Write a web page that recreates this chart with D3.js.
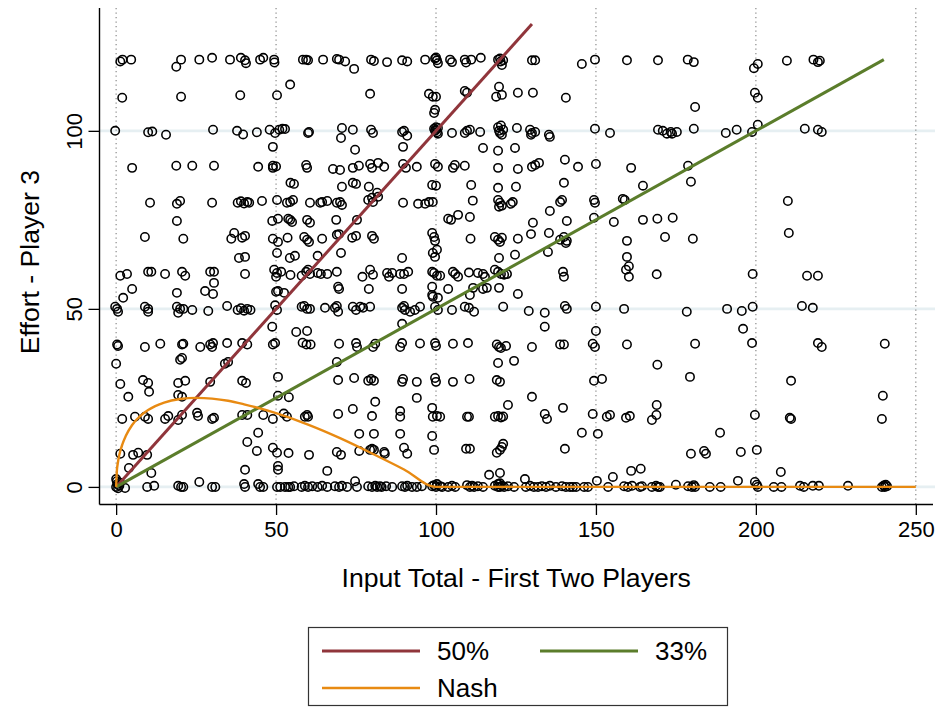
<!DOCTYPE html>
<html><head><meta charset="utf-8">
<script src="https://cdn.jsdelivr.net/npm/d3@7"></script>
<style>body{margin:0;background:#fff}svg{display:block}text{font-family:"Liberation Sans",Arial,sans-serif;fill:#000}</style>
</head><body><svg id="c" width="939" height="712"></svg>
<script>
// ---- data ----
const xTicks = [0, 50, 100, 150, 200, 250];
const yTicks = [0, 50, 100];
const xTitle = "Input Total - First Two Players";
const yTitle = "Effort - Player 3";
const seriesNames = ["50%", "33%", "Nash"];
const line50 = [[0, 0], [130, 130]];
const line33 = [[0, 0], [240, 120]];
const nashX = [0, 0.25, 0.5, 1, 2, 3, 5, 7.5, 10, 15, 20, 25, 30, 35, 40, 50, 60, 70, 80, 90, 100, 250];
const nashY = [0, 4.75, 6.57, 9, 12.1, 14.3, 17.4, 19.9, 21.6, 23.7, 24.7, 25, 24.8, 24.2, 23.2, 20.7, 17.5, 13.7, 9.4, 4.9, 0, 0];
const obs = [
[1.3,119.5],[2,120],[4.7,120],[20.3,120],[18.8,118],[26,120],[30,120.5],[35.6,120],[39,120.5],[40.3,119.8],[40.6,119],[45,120],[46,120.5],[49.4,120],[49.5,119.2],
[58.4,120],[59.4,120],[60,119.8],[64.7,120],[69,120.2],[69.7,120],[71.6,119.5],[74.4,117.4],[79.7,120],[80.6,119.6],[84.7,119.3],[89.4,119.8],[91,119.5],[96.6,120],[99.7,120.3],[100.3,119.8],[100.6,119],[100,120.6],[104.4,120],[105,119.3],[109,120],[109.4,119.2],
[111,120],[114,120.5],[119.4,120],[120,120.3],[121,119.8],[120.6,118.5],[120.2,119.5],[130,119.8],[131,119.8],[145.6,118.8],[149.7,120],[159.7,119.8],[169.4,119.8],
[178.7,120],[180.6,119.3],[199.4,117.6],[200.6,118.8],[209.7,119.7],[218,120],[219.4,119.3],[220,119.7],
[1.9,109.3],[20.3,109.6],[38.8,110],[50.3,110],[54.4,113],[79.4,110.4],[97.8,110.4],[99,109.6],[100,109.6],[109,111.2],[109.7,110.7],[99.7,105.9],[99.4,105],
[119.7,112.4],[118.8,109.6],[120.6,110.1],[125.6,110.7],[130.3,110.7],[140.6,109.3],[181,106.7],[199.7,110.7],[200.6,109.3],
[-0.3,100],[10,99.6],[11.3,99.8],[15.6,98.9],[30.3,100.3],[37.8,100],[39.7,99],[44,99.6],[48,100.3],[49.7,99.4],[51,100.3],[52,100.6],[52.8,100.5],[49,95.5],
[60,99.4],[60.3,99.7],[70.6,100.8],[70.3,98],[74,100.3],[79.7,100.3],[80.3,99.4],[89.4,99.7],[90,100],[91,98.6],[89.7,95.5],[74.7,94.7],
[99.7,100],[100,100.3],[100.3,99.6],[99.4,100.6],[100.6,99.2],[100,101],[100.6,100.8],[105,99.4],[109,99.4],[109.7,100],
[110.6,100.3],[113.8,99.7],[119.4,101],[119.7,100],[120,99.4],[120.6,98.9],[121,100.3],[120.3,101.5],[125.3,100.8],[129.4,100.3],[130,99.4],[131,99.7],[129.7,98.9],[135.3,98.9],[135.6,98.3],[149.7,100.6],[154.4,99.4],
[114.7,95.2],[119.4,94.4],[124.7,95.2],
[169.4,100.3],[170.9,100],[172.2,99.2],[173.4,99.7],[173.8,99.2],[175.3,99.7],[180.6,100.6],[190.6,99.4],[194,100.3],[198.8,99.7],[200.6,101.7],[215.3,100.6],[219.4,100.3],[220.6,99.7],
[5,89.6],[18.8,90.2],[23.8,90.2],[30.6,90.2],[44.4,89.9],[49,90.2],[49,89.6],[50,90],
[59.4,90.4],[59.7,89.6],[67.8,89.3],[70,89],[74,89.6],[75.9,90.2],[79.4,90.7],[80,89.6],[81.9,91],[83.8,89.9],[89.7,90.7],[90.6,89.6],[94,89.9],[99.7,90.7],[100.6,89.9],[105.9,90.4],[105.3,89.6],[109,90.2],
[119.4,89.6],[125.6,89.3],[130,89.9],[131,90.4],[132.2,91],[140.3,91.9],[144.4,89.9],[150,90.7],[161,89.6],[178.8,90.2],
[54.5,85.4],[55.6,85.1],[70.6,84.3],[74,85.4],[75,85.1],[79,84.3],[98.8,84.8],[100,84.6],[111,84.8],[119.4,84],[125,84.3],[140,85.4],[164.7,84.6],[179.7,85.7],
[10.6,79.8],[19,79.5],[20,80.3],[30,79.8],[38,79.8],[39,80.2],[40,79.6],[41,80],[41.6,79.8],[45.6,80.3],[50.3,80.6],[53.4,79.8],
[54.4,80],[55.3,80.6],[60.6,79.8],[63.8,79.8],[64.4,80],[66,80.3],[69,79.8],[70,80],[70.6,79.2],[78.8,80.6],[80,81.2],[80.3,80],[81.6,82.6],[81.9,81.5],[89.7,79.8],[94.4,79.5],[96.6,79.5],[97.8,80],[99,80],[111.5,80.4],
[119.4,80.6],[120,79.8],[120.6,79],[119.7,78.7],[124,80],[123.4,79.5],[138.8,80],[139.4,80.6],[149.4,80.6],[149.7,79.8],[158.4,80.9],[159,80.6],[210,80.3],
[19,74.7],[48.8,74.7],[50.6,75.3],[53.8,75.3],[54.4,75],[55,74.4],[59.7,75],[60.6,74.2],[68.8,75],[75.3,75],[103.8,75.3],[104.7,75],[106.9,76.4],[110.6,75.8],[135.6,77.5],[140.9,74.7],[130.3,74.2],[149.4,75.6],[155.6,74.4],[164.7,75],[169.2,75.3],[174,75.6],
[9,70.2],[21,69.7],[36,69.7],[36.9,71.3],[39.4,70],[40.3,70.5],[49,69.7],[50.6,68.8],[53.6,70],[58.8,70.2],[59.7,69.4],[60.3,68.8],[64.4,69.7],[69,70.8],[69.7,71],[73.8,70],[75,70.5],[80,70.5],[80.6,69.7],[98.8,71.3],[99.4,70.2],[99.7,69.1],[100.3,66.6],[99,65.7],[99.7,64.6],[110.8,69.7],[118.4,70.2],[119.4,69.4],[120,68.8],[120.6,70],[125.6,69.7],[129.7,71],[135.3,71.3],[138.8,69.4],[140,70.2],[140.9,69.1],[140.6,68.5],[159.7,69.1],[171.6,70.2],[180.3,69.7],[210.3,71.3],
[50.3,65.7],[38.4,64.3],[40.3,64.6],[54.3,64.3],[55.9,64.9],[63,64.9],[70.3,65.7],[89.4,64.3],[135,66],[119.7,64.3],[124.7,65.2],[159.7,64.6],[160.3,62],[159.4,61],[160.3,59],
[1.3,59.3],[3.4,59.8],[10,60.4],[11,60.4],[15.3,59.8],[20.6,60.4],[21.6,59.3],[29.4,60.4],[30.6,60.4],[40.3,59.8],[49.4,61],[50.3,60.1],[50,59],[51.6,60.4],[54.5,59.5],[58,59.3],[59.4,60.4],[60,61],[60.6,59.8],[63,60.1],[64,59.8],[66,59.8],[69,60.4],[77,59],[79.4,61],[80.3,59.6],[84.7,60.1],[85.3,59],[86.3,60.1],[88.8,59.8],[90,59.8],[91.3,60.4],[98.8,60.4],[99.4,60.1],[100.3,59.3],[101.3,59.3],[105.3,60.4],[106,59.8],[106.9,59],[110.3,60.2],[113.1,60.1],[114.7,59.8],[115.3,59],[118.4,61],[119.4,60.4],[120.3,59.8],[121.3,59.6],[122.2,59.8],[139.7,60.4],[140,59],[169,59.7],[199,59.8],[216,59.3],[219.4,59.3],
[5,55.6],[2.2,53.1],[19,54.5],[27.8,55],[30.3,54.2],[30.6,57.3],[50,54.8],[50.6,55],[52.5,54.5],[69.4,56.2],[69.7,55.6],[79,55.6],[89.4,55.6],[98.8,56.2],[98.8,53.9],[99,53.4],[100.6,53.1],[103.8,55.6],[111.6,55.9],[110.6,53.9],[114.7,55.6],[115.9,55.9],[119.7,55.9],[125.6,54.2],
[-0.3,50.6],[0.3,50],[0.6,49.2],[9,50.6],[10,50],[10,49.2],[19,50.6],[20,50],[19.4,48.9],[21,50],[23.8,49.7],[28.8,49.4],[34.7,50.8],[38,49.7],[39,50.2],[40,49.5],[41,50],[42,49.7],[49.7,51],[50.3,49.7],[58,50.6],[58.8,50.8],[59.7,50],[60.6,50],[65.3,50.3],[68.4,50.3],[69,50.8],[69.4,49.2],[74,50.6],[75,49.7],[76.3,50.6],[77.2,50.3],[79.4,50.6],[89.4,50.3],[90.3,49.7],[90,50.8],[91.9,49.2],[93.4,49.7],[95,50.6],[99.7,50.6],[100.6,49.7],[105,49.7],[109,50.6],[110.3,50.3],[111.9,49.2],[121,50.6],[129,49.4],[134,48.9],[140.3,50.8],[140.9,50],[150,50.6],[158.8,50],[178.4,49.2],[191,50],[195.6,49.4],[199,50.6],[214.4,50.8],[217.8,50.3],
[48.8,45],[89.4,45.8],[56.3,43.5],[59.7,43.8],[134,45],[150,43.8],[196,44.4],
[0.3,40],[0.6,39.6],[9,39.3],[13.8,40.2],[20.6,40],[21,40.2],[26.3,39.3],[29.4,40],[30.3,40.4],[30,39.3],[34.7,40.4],[39.4,40.4],[41,40],[49,40],[49.7,40.4],
[58.3,40.5],[59.5,40],[60.8,40],[69.7,40.2],[75,40.4],[75.3,39.3],[80.3,39.3],[81,40.2],[88.8,39.3],[89.4,40.4],[95,40.3],[99.7,40.4],[100,39.6],[105.3,40.2],[110,40.4],
[119,40],[119.7,39.3],[120.3,39],[121.9,39.6],[130,39.3],[138.8,40],[140,40],[149,40.2],[149.7,39.3],[159.7,40],[181,40.2],[198.8,40.4],[219.4,40.4],[220.6,39.3],[240.3,40.2],
[0,34.6],[20,35.7],[20.6,36.2],[34,34.6],[35,35.1],[69,35.1],[119.4,34.8],[124.4,35.4],[169.2,34.3],
[1.3,28.9],[8.4,30],[10,29.2],[19.4,29.2],[21.6,29.8],[29.4,29.5],[39.4,29.8],[40.6,29.2],[50.6,30.9],[69.4,30],[74.4,30.6],[78.8,29.8],[79.7,30.3],[80.6,29.8],[89.4,29.5],[89.7,30.3],[94,29.5],[99.7,30.6],[100,29.5],[105.3,29.5],[110.5,30.3],[119,30],[120,29.5],[149.4,29.8],[151.9,30.3],[179.4,30.9],[211,29.8],
[10.3,26.7],[3.8,25.3],[19.4,25.8],[20.6,25.3],[50.6,25.6],[54,25.2],[81,23.9],[94,25],[130,25.3],[122.5,23],[139.7,22.2],[169,23],[239.7,25.6],
[1.9,19.1],[5.9,19.7],[9,19.7],[10,19.1],[15.3,19.1],[16.3,19.9],[19.4,18.8],[20.6,20.2],[25.3,20.8],[25.6,19.9],[30,19.1],[30.6,19.4],[39.4,20.2],[41,20.2],[46,20.2],[49,19.1],[52.4,20.6],[53.4,19.7],[59.7,20.2],[59,19.7],[60,19.7],[69.4,20.5],[74,21.9],[80,19.9],[88.8,21.3],[88.8,19.7],[98.8,22.2],[99,19.7],[100.3,19.9],[101.3,19.7],[109.7,19.7],[110.3,19.7],[118.4,19.7],[119.4,19.9],[120.3,19.5],[121,19.8],[134,20.5],[134.7,19.1],[149,20.5],[153.4,19.7],[154.4,20.2],[159.4,19.4],[160.6,19.9],[167.5,18.8],[168.9,20.2],[199.7,20.2],[210.6,19.4],[211,19.1],[239.4,19.1],
[44.4,15.2],[41,12.6],[76,14.9],[80.6,14.9],[88.8,14.9],[98.8,14.3],[145.6,15.2],[150.6,14.9],[188.8,15.2],
[1.3,9.3],[5.3,9],[6.9,9.6],[9.7,9],[44,10.1],[49,11],[50.3,9.6],[53.9,9.5],[60.3,9],[69,9.8],[70.3,9],[76,10.1],[79.4,10.4],[80,10.7],[80.6,10.4],[83.8,9.8],[84,9.3],[90,11],[91,9.3],[99.4,10.4],[109.4,10.7],[110.6,10.7],[119,9.6],[120,10.4],[120.6,11.2],[121,12.1],[140.3,10.7],[179.7,9.3],[183.8,10.1],[184.4,9.3],[195.3,9.8],[200.3,10.4],
[4,5.3],[11,3.9],[40.3,4.8],[50.6,5.9],[50.6,4.8],[66,4.5],[116.6,3.4],[120,3.9],[127.8,2.2],[155.3,2.8],[161,4.5],[164,5.1],[207.8,4.2],[194.4,1.7],[199.7,1.4],[26,1.4],[74.7,1.6],[150.3,1.7],
[0,0],[0.4,0.8],[1,0.3],[0.2,1.6],[1.2,1.2],[0.6,-0.4],[0,2.2],
[2.8,-0.3],[9.7,0],[11.9,0.3],[19.4,0.3],[20.3,0],[21,0],[30,0],[31,0],[40,0.8],[40.3,0],[44.4,0.8],[45,0],[46,0],[50.3,0],[51.3,0],[52.8,0],[53.8,0],
[54.4,0],[55.6,0.2],[58,0],[59,0.3],[60,0],[61.3,0.2],[63,0],[64.4,0.3],[66,0],[68.4,0.2],[69.7,0],[70.6,0.3],[72.2,0],[75.3,0],[78.8,0.2],[80,0],[81,0.3],[81.6,0],[82.5,0.2],[83,0],[84.4,0.2],[86.3,0],[89.4,0.2],[90.3,0],[91,0.3],[92.5,0],[94,0],[95.6,0.2],[98.8,0.2],[99.4,0.5],[100,0],[100.3,0.8],[101.3,0.2],[101.9,0],[103.8,0],[105,0.3],[106,0],[109.7,0.5],[110.6,0],[111.3,0.3],
[111.9,0],[113.1,0.2],[114.7,0],[118.4,0.3],[119.4,0],[119.4,0.8],[120,0],[120,1],[120.6,0.3],[121.3,0],[122.5,0.2],[124.4,0],[128.1,0],[129.4,0.3],[130.6,0],[131.9,0],[133.1,0.2],[134.4,0],[135.6,0.3],[137.5,0],[139.4,0.2],[140.6,0],[141.9,0],[142.8,0],[143.8,0],[146.3,0],[147.5,0],[153.8,0],[158.8,0.2],[160,0],[161.3,0.3],[163.8,0],[164.4,0.2],[167.5,0],[168.8,0.3],[170,0],
[169.4,0],[175,0.6],[178.8,0.2],[180,0],[180.6,0.5],[181,0],[185.6,0],[189,0],[200.3,0.6],[200.6,0],[205.6,0],[208,0],[213.8,0.3],[215,0],[217.8,0.3],[219.7,0.3],[228.8,0.3],[239.4,0],[240,0.4],[240.3,0],[240.6,0.6],[241,0.2]
];
const colors = {red: "#90353b", green: "#5b7d2b", orange: "#e88a12"};

// ---- chart ----
const svg = d3.select("#c");
svg.append("rect").attr("width", 939).attr("height", 712).attr("fill", "#fff");
const pL = 99.5, pR = 935, pT = 8, pB = 504;
const x = d3.scaleLinear().domain([-5.2, 256]).range([pL, pR]);
const y = d3.scaleLinear().domain([-4.8, 134.5]).range([pB, pT]);
const font = "Liberation Sans, Arial, sans-serif";

// horizontal grid
svg.append("g").selectAll("line").data(yTicks).join("line")
  .attr("x1", pL).attr("x2", pR).attr("y1", d => y(d)).attr("y2", d => y(d))
  .attr("stroke", "#e6eff2").attr("stroke-width", 2.6);
// vertical dotted grid
svg.append("g").selectAll("line").data(xTicks).join("line")
  .attr("x1", d => x(d)).attr("x2", d => x(d)).attr("y1", pT).attr("y2", pB)
  .attr("stroke", "#8a8a8a").attr("stroke-width", 1.2).attr("stroke-dasharray", "1.2,3.3");

// points
svg.append("g").selectAll("circle").data(obs).join("circle")
  .attr("cx", d => x(d[0])).attr("cy", d => y(d[1])).attr("r", 4.2)
  .attr("fill", "none").attr("stroke", "#000").attr("stroke-width", 1.55);

// lines
const lg = d3.line().x(d => x(d[0])).y(d => y(d[1]));
const nash = nashX.map((v, i) => [v, nashY[i]]);
svg.append("path").attr("d", lg(line50)).attr("fill", "none").attr("stroke", colors.red).attr("stroke-width", 3);
svg.append("path").attr("d", lg(line33)).attr("fill", "none").attr("stroke", colors.green).attr("stroke-width", 3);
svg.append("path").attr("d", d3.line().x(d => x(d[0])).y(d => y(d[1])).curve(d3.curveMonotoneX)(nash))
  .attr("fill", "none").attr("stroke", colors.orange).attr("stroke-width", 2.4);

// axes
const xAxis = d3.axisBottom(x).tickValues(xTicks).tickSize(11).tickPadding(6);
const gx = svg.append("g").attr("transform", `translate(0,${pB})`).call(xAxis);
gx.select(".domain").attr("d", `M${pL},0.5H${pR - 2}`).attr("stroke", "#000").attr("stroke-width", 1.4);
gx.selectAll(".tick line").attr("stroke", "#000").attr("stroke-width", 1.3);
gx.selectAll(".tick text").attr("font-size", 22).attr("font-family", font).attr("fill", "#000");

const yAxis = d3.axisLeft(y).tickValues(yTicks).tickSize(11).tickPadding(5);
const gy = svg.append("g").attr("transform", `translate(${pL},0)`).call(yAxis);
gy.select(".domain").attr("d", `M0,${pT}V${pB + 0.5}`).attr("stroke", "#000").attr("stroke-width", 1.4);
gy.selectAll(".tick line").attr("stroke", "#000").attr("stroke-width", 1.3);
gy.selectAll(".tick text").attr("font-size", 22).attr("font-family", font).attr("fill", "#000")
  .attr("text-anchor", "middle").attr("dy", null).attr("x", null)
  .attr("transform", "translate(-18,0) rotate(-90)");

// titles
svg.append("text").attr("x", (pL + pR) / 2 - 1).attr("y", 587).attr("text-anchor", "middle")
  .attr("font-size", 26.6).text(xTitle);
svg.append("text").attr("transform", `translate(39,${(pT + pB) / 2 + 6}) rotate(-90)`).attr("text-anchor", "middle")
  .attr("font-size", 26.6).text(yTitle);

// legend
const leg = svg.append("g");
leg.append("rect").attr("x", 308.5).attr("y", 627.5).attr("width", 419).attr("height", 78)
  .attr("fill", "#fff").attr("stroke", "#333").attr("stroke-width", 1.2);
const legItems = [
  {name: seriesNames[0], c: colors.red, lx: 322, ly: 651, w: 3},
  {name: seriesNames[1], c: colors.green, lx: 540, ly: 651, w: 3},
  {name: seriesNames[2], c: colors.orange, lx: 322, ly: 688, w: 2.4}
];
legItems.forEach(it => {
  leg.append("line").attr("x1", it.lx).attr("x2", it.lx + 98).attr("y1", it.ly).attr("y2", it.ly)
    .attr("stroke", it.c).attr("stroke-width", it.w);
  leg.append("text").attr("x", it.lx + 115).attr("y", it.ly + 9).attr("font-size", 26).text(it.name);
});
</script></body></html>
